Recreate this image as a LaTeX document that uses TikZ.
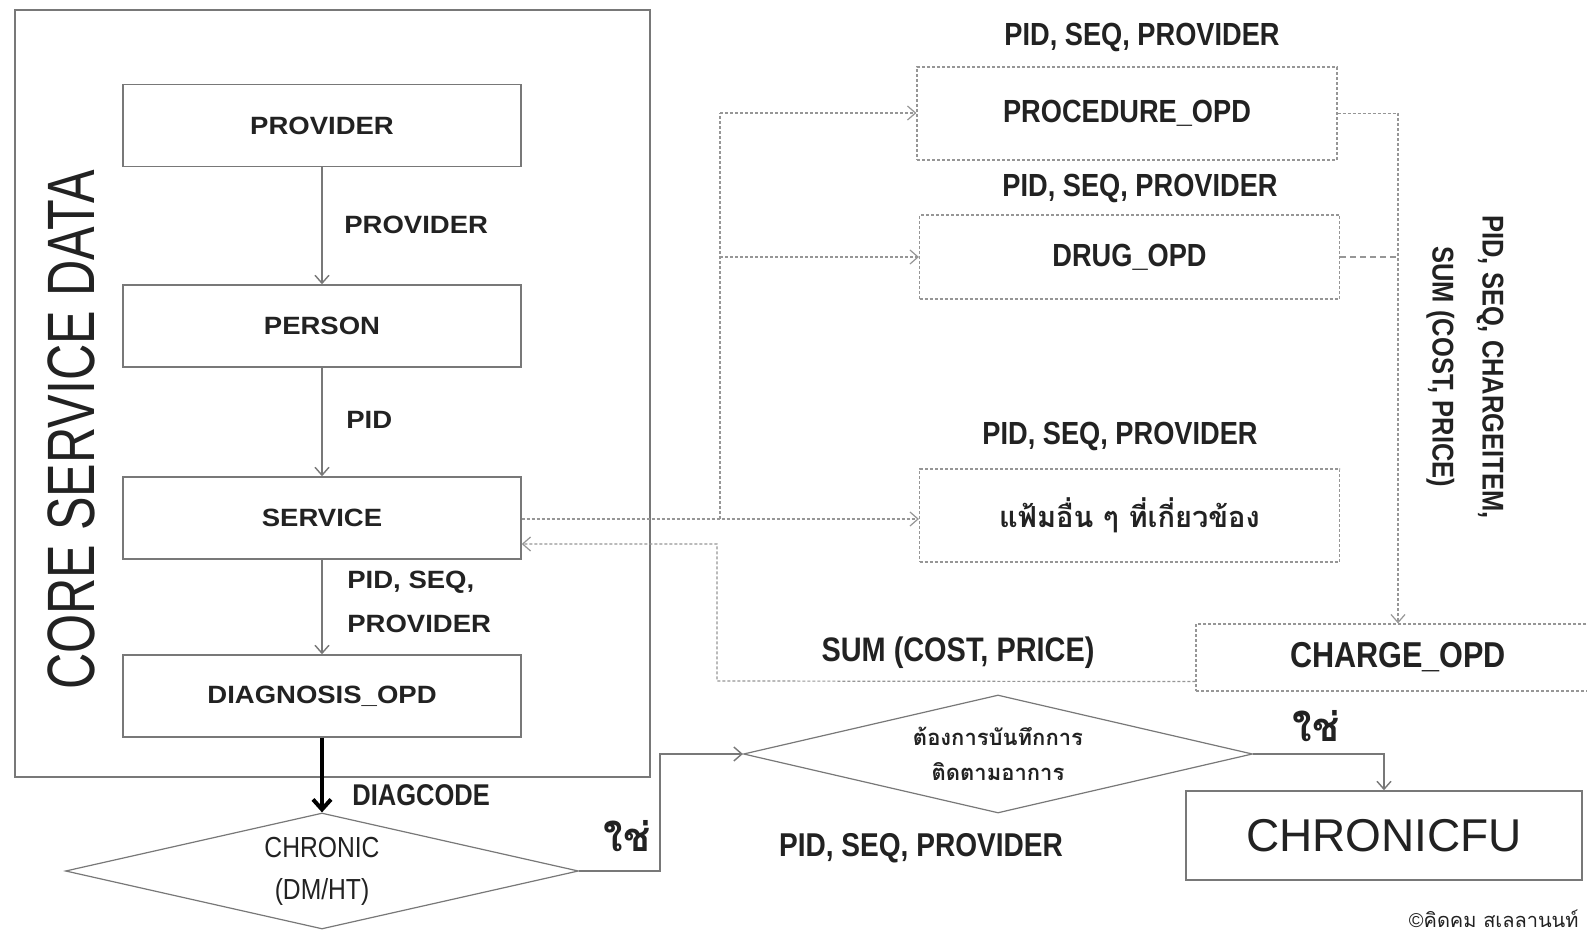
\documentclass[tikz,border=0pt]{standalone}
\usepackage{fontspec}
\setmainfont{Liberation Sans}
\newfontfamily\condfont[FakeStretch=0.85]{Liberation Sans}
\newfontfamily\widefont[FakeStretch=1.1]{Liberation Sans}
\newfontfamily\tallfont[FakeStretch=0.75]{Liberation Sans}
\newfontfamily\thaifont[Script=Thai]{Loma}
\usetikzlibrary{arrows.meta,positioning,calc,shapes.geometric}
\definecolor{inkDark}{RGB}{34, 34, 34}
\definecolor{lineGray}{RGB}{120, 120, 120}
\definecolor{dotGray}{RGB}{150, 150, 150}

\begin{document}
\begin{tikzpicture}[x=0.5pt, y=-0.5pt,
    corebox/.style={draw=lineGray, line width=0.7pt, fill=white, minimum width=199pt, minimum height=41pt, inner sep=0pt,
        text=inkDark, font=\widefont\bfseries\fontsize{12.5}{14}\selectfont},
    dotbox/.style={draw=dotGray, line width=0.6pt, dash pattern=on 1.5pt off 1pt, minimum width=210pt, inner sep=0pt,
        text=inkDark, font=\condfont\bfseries\fontsize{16}{18}\selectfont},
    corekey/.style={anchor=west, inner sep=0pt, align=left, text=inkDark, font=\widefont\bfseries\fontsize{12.5}{22}\selectfont},
    fieldkey/.style={inner sep=0pt, align=center, text=inkDark, font=\condfont\bfseries\fontsize{16}{18}\selectfont},
    decision/.style={diamond, draw=lineGray, line width=0.6pt, inner sep=0pt, align=center, text=inkDark},
    yeskey/.style={inner sep=0pt, text=inkDark, font=\thaifont\bfseries\fontsize{20}{22}\selectfont},
    flow/.style={draw=lineGray, line width=0.7pt, -{Straight Barb[length=4pt,width=7pt]}},
    link/.style={draw=dotGray, line width=0.6pt, dash pattern=on 1.5pt off 1pt, -{Straight Barb[length=4pt,width=7pt]}}]

\clip (0,0) rectangle (1587,935);
\fill[white] (0,0) rectangle (1587,935);

% core service data block
\draw[lineGray, line width=0.8pt] (15,10) rectangle (650,777);
\node[rotate=90, inner sep=0pt, text=inkDark, font=\tallfont\fontsize{33.5}{36}\selectfont] (coretitle) at (71,430) {CORE SERVICE DATA};

\node[corebox] (prov) at (322,125.5) {PROVIDER};
\node[corebox] (pers) at (322,326) {PERSON};
\node[corebox] (svc) at (322,518) {SERVICE};
\node[corebox] (diag) at (322,696) {DIAGNOSIS\_OPD};

\draw[flow] (prov) -- (pers);
\draw[flow] (pers) -- (svc);
\draw[flow] (svc) -- (diag);
\node[corekey] (provkey) at (344,225) {PROVIDER};
\node[corekey] (pidkey) at (346,420) {PID};
\node[corekey] (svckey) at (347,602) {PID, SEQ,\\PROVIDER};

% chronic check
\node[decision, aspect=4.4, minimum width=256.5pt, minimum height=58pt,
      font=\condfont\fontsize{14.5}{21}\selectfont] (chronic) at (322,871) {CHRONIC\\(DM/HT)};
\draw[black, line width=2pt, -{Straight Barb[length=5pt,width=9pt]}] (diag) -- (chronic);
\node[fieldkey, anchor=west, font=\condfont\bfseries\fontsize{15}{17}\selectfont] (diagkey) at (352,795) {DIAGCODE};

% related OPD files
\node[fieldkey] (prockey) at (1142,37) {PID, SEQ, PROVIDER};
\node[dotbox, minimum height=46.5pt] (proc) at (1127,113.5) {PROCEDURE\_OPD};
\node[fieldkey] (drugkey) at (1140,188) {PID, SEQ, PROVIDER};
\node[dotbox, minimum height=42pt] (drug) at (1129.5,257) {DRUG\_OPD};
\node[fieldkey] (otherkey) at (1120,436) {PID, SEQ, PROVIDER};
\node[dotbox, minimum height=46.5pt, font=\thaifont\bfseries\fontsize{14.5}{17}\selectfont] (other) at (1129.5,515.5) {แฟ้มอื่น ๆ ที่เกี่ยวข้อง};
\node[dotbox, minimum width=202pt, minimum height=33.5pt, font=\condfont\bfseries\fontsize{18}{20}\selectfont] (charge) at (1398,657.5) {CHARGE\_OPD};

\coordinate (trunk) at (720,519);
\coordinate (trunktop) at (720,113);
\coordinate (trunkmid) at (720,257);
\draw[link] (svc.east |- trunk) -- (trunk -| other.west);
\draw[draw=dotGray, line width=0.6pt, dash pattern=on 1.5pt off 1pt] (trunk) -- (trunktop);
\draw[link] (trunktop) -- (trunktop -| proc.west);
\draw[link] (trunkmid) -- (trunkmid -| drug.west);

\draw[link] (proc.east) -| (charge.north);
\draw[draw=dotGray, line width=0.6pt, dash pattern=on 3pt off 2pt] (drug.east) -- (drug.east -| charge.north);
\node[fieldkey, rotate=-90, font=\condfont\bfseries\fontsize{15}{25}\selectfont] (chargekey) at (1465,367) {PID, SEQ, CHARGEITEM,\\SUM (COST, PRICE)};

% sums back to service
\coordinate (retstart) at ($(charge.south west)+(0,-10)$);
\coordinate (retturn) at (717,681);
\coordinate (retend) at ($(svc.east)+(0,26)$);
\draw[link] (retstart) -- (retturn) |- (retend);
\node[fieldkey, font=\condfont\bfseries\fontsize{17}{19}\selectfont] (sumkey) at (958,653) {SUM (COST, PRICE)};

% follow-up decision
\node[decision, aspect=4.3, minimum width=254.5pt, minimum height=59pt,
      font=\thaifont\bfseries\fontsize{11}{17.5}\selectfont] (follow) at (998,754) {ต้องการบันทึกการ\\ติดตามอาการ};
\draw[flow] (chronic.east) -- ++(81,0) |- (follow.west);
\node[yeskey] (yes1) at (627,836) {ใช่};
\node[fieldkey, font=\condfont\bfseries\fontsize{16.5}{18}\selectfont] (followkey) at (921,848) {PID, SEQ, PROVIDER};

\node[draw=lineGray, line width=0.7pt, minimum width=198pt, minimum height=44.5pt, inner sep=0pt,
      text=inkDark, font=\fontsize{23}{26}\selectfont] (cfu) at (1384,835.5) {CHRONICFU};
\draw[flow] (follow.east) -| (cfu.north);
\node[yeskey] (yes2) at (1316,726) {ใช่};

\node[anchor=east, inner sep=0pt, text=inkDark, font=\fontsize{10}{12}\selectfont] (credit) at (1579,919) {©{\thaifont คิดคม สเลลานนท์}};
\end{tikzpicture}
\end{document}
